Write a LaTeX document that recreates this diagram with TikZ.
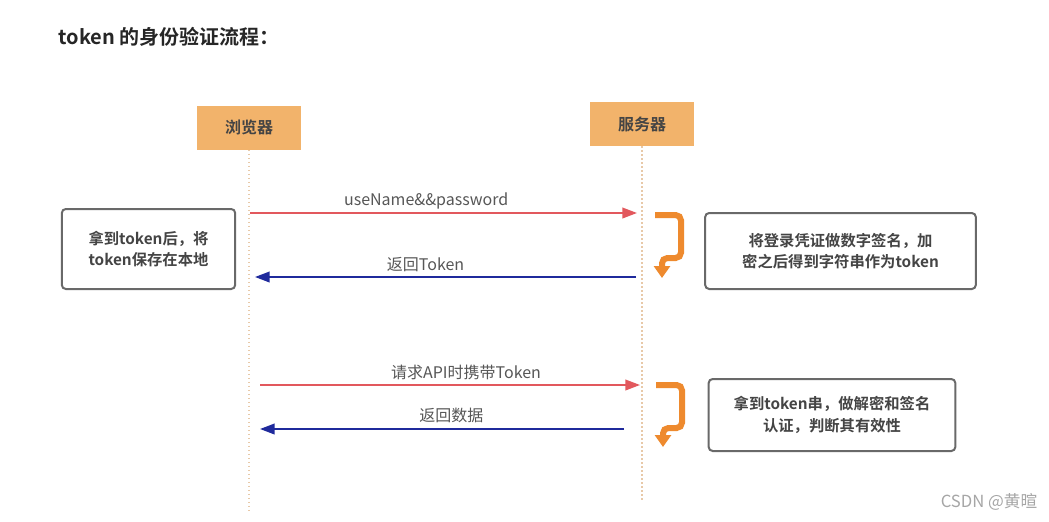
\documentclass[tikz,border=0pt]{standalone}
\usepackage{fontspec}
\setmainfont{Noto Sans CJK SC}
\newfontfamily\boldcjk{Noto Sans CJK SC Bold}
\usetikzlibrary{arrows.meta,positioning}
\definecolor{actorfill}{HTML}{F2B36B}
\definecolor{lifeline}{HTML}{E8C9A8}
\definecolor{reqred}{HTML}{E2585D}
\definecolor{resblue}{HTML}{1F2A9C}
\definecolor{hookorange}{HTML}{EE8A2E}
\definecolor{textgray}{HTML}{444444}
\tikzset{
  actor/.style={fill=actorfill,minimum width=78pt,minimum height=33pt,text=textgray,font=\boldcjk\fontsize{12}{14}\selectfont},
  notebox/.style={draw=textgray!80,line width=1.5pt,rounded corners=3pt,fill=white,text=textgray,align=center,font=\boldcjk\fontsize{11.5}{16}\selectfont},
  msglabel/.style={text=textgray!90,font=\fontsize{12}{13}\selectfont},
  req/.style={draw=reqred,line width=1.3pt,-{Triangle[length=11pt,width=8pt]}},
  res/.style={draw=resblue,line width=1.3pt,-{Triangle[length=11pt,width=8pt]}},
  hook/.style={draw=hookorange,line width=4.5pt,rounded corners=4pt,-{Triangle[length=9pt,width=12pt]}},
  life/.style={draw=lifeline,line width=1pt,dotted}
}
\begin{document}
\begin{tikzpicture}[x=0.75pt,y=-0.75pt]
	\useasboundingbox[fill=white] (0,0) rectangle (1049,521);
	\node[anchor=west,text=black!85,font=\boldcjk\fontsize{15}{17}\selectfont] (title) at (54,37) {token 的身份验证流程：};
	% actors
	\node[actor] (br) at (249,127.5) {浏览器};
	\node[actor] (sv) at (642,124) {服务器};
	\coordinate (brEnd) at (249,510);
	\coordinate (svEnd) at (642,500);
	\draw[life] (br.south) -- (brEnd); %browser
	\draw[life] (sv.south) -- (svEnd); %server
	% messages
	\coordinate (a1) at (250,213); \coordinate (b1) at (637,213);
	\coordinate (a2) at (255,277); \coordinate (b2) at (636,277);
	\coordinate (a3) at (260,385); \coordinate (b3) at (640,385);
	\coordinate (a4) at (260,429); \coordinate (b4) at (624,429);
	\draw[req] (a1) -- (b1) node[msglabel,midway,above=-1pt,xshift=-13pt] (m1) {useName\&\&password};
	\draw[res] (b2) -- (a2) node[msglabel,midway,above=0pt,xshift=-15pt] (m2) {返回Token};
	\draw[req] (a3) -- (b3) node[msglabel,midway,above=0pt,xshift=12pt] (m3) {请求API时携带Token};
	\draw[res] (b4) -- (a4) node[msglabel,midway,above=1pt,xshift=7pt] (m4) {返回数据};
	% notes
	\node[notebox,minimum width=130pt,minimum height=60pt] (n1) at (148.5,249) {拿到token后，将\\token保存在本地};
	\node[notebox,minimum width=203pt,minimum height=57pt] (n2) at (840.5,251) {将登录凭证做数字签名，加\\密之后得到字符串作为token};
	\node[notebox,minimum width=185pt,minimum height=54pt] (n3) at (832,415) {拿到token串，做解密和签名\\认证，判断其有效性};
	% hooks
	\coordinate (h1) at (655,215); \coordinate (h1e) at (662,278);
	\coordinate (h2) at (656,385); \coordinate (h2e) at (663,447);
	\draw[hook] (h1) -| (681,258) -| (h1e);
	\draw[hook] (h2) -| (682,428) -| (h2e);
	\node[text=black!35,font=\fontsize{12.5}{14}\selectfont] (mark) at (989,502) {CSDN @黄暄};
\end{tikzpicture}
\end{document}
